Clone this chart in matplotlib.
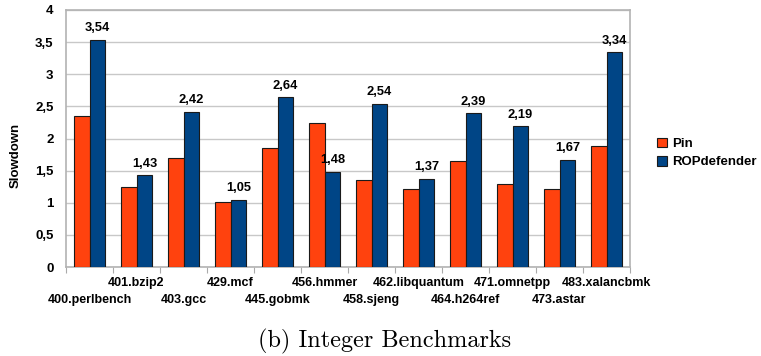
import numpy as np
import matplotlib
matplotlib.use("Agg")
import matplotlib.pyplot as plt
from matplotlib.ticker import FuncFormatter, FixedLocator

# data
benchmarks = ["400.perlbench", "401.bzip2", "403.gcc", "429.mcf", "445.gobmk",
              "456.hmmer", "458.sjeng", "462.libquantum", "464.h264ref",
              "471.omnetpp", "473.astar", "483.xalancbmk"]
pin = [2.35, 1.25, 1.69, 1.01, 1.85, 2.24, 1.35, 1.21, 1.65, 1.29, 1.21, 1.89]
ropdefender = [3.54, 1.43, 2.42, 1.05, 2.64, 1.48, 2.54, 1.37, 2.39, 2.19, 1.67, 3.34]
series_names = ["Pin", "ROPdefender"]
colors = ["#FF420E", "#004586"]

plt.rcParams["font.family"] = ["Liberation Sans", "DejaVu Sans"]

fig = plt.figure(figsize=(7.61, 3.56), dpi=100)
ax = fig.add_axes([66 / 761, 1 - 267 / 356, 564 / 761, 257 / 356])

x = np.arange(len(benchmarks))
w = 0.34
b1 = ax.bar(x - w / 2, pin, w, color=colors[0], edgecolor="#1a1a1a", linewidth=0.8,
            label=series_names[0], zorder=3)
b2 = ax.bar(x + w / 2, ropdefender, w, color=colors[1], edgecolor="#1a1a1a", linewidth=0.8,
            label=series_names[1], zorder=3)

for xi, v in zip(x + w / 2, ropdefender):
    ax.annotate(f"{v:.2f}".replace(".", ","), (xi, v), xytext=(0, 4),
                textcoords="offset points", ha="center", va="bottom",
                fontsize=9.3, fontweight="bold")

ax.set_xlim(-0.5, len(benchmarks) - 0.5)
ax.set_ylim(0, 4)
ax.set_yticks(np.arange(0, 4.01, 0.5))
ax.yaxis.set_major_formatter(FuncFormatter(lambda v, p: f"{v:g}".replace(".", ",")))
ax.grid(axis="y", color="#c8c8c8", linewidth=1, zorder=0)

# tick marks at category boundaries, labels staggered at centres
ax.xaxis.set_major_locator(FixedLocator(np.arange(-0.5, len(benchmarks), 1)))
ax.xaxis.set_major_formatter(FuncFormatter(lambda v, p: ""))
ax.tick_params(axis="x", which="major", length=4, color="#aaaaaa")
ax.tick_params(axis="y", length=0, labelsize=9.5, pad=9)
for lbl in ax.get_yticklabels():
    lbl.set_fontweight("bold")
for i, name in enumerate(benchmarks):
    off = -11.5 if i % 2 == 1 else -24
    ax.annotate(name, (i, 0), xytext=(0, off), textcoords="offset points",
                xycoords=("data", "axes fraction"), ha="center", va="center",
                fontsize=9, fontweight="bold", annotation_clip=False)

for s in ax.spines.values():
    s.set_color("#b3b3b3")
    s.set_linewidth(1.2)

fig.text(16 / 761, 1 - 155 / 356, "Slowdown", rotation=90, ha="center", va="center",
         fontsize=9.5, fontweight="bold")

fig.legend(handles=[b1, b2], labels=series_names, loc="center left",
           bbox_to_anchor=(657 / 761, 1 - 153 / 356), frameon=False,
           borderpad=0, borderaxespad=0,
           prop={"weight": "bold", "size": 9.5}, handlelength=0.75, handleheight=0.75,
           handletextpad=0.4, labelspacing=0.45)

fig.text(385 / 761, 1 - 341 / 356, "(b) Integer Benchmarks", ha="center", va="center",
         fontsize=17.5, family="cmr10")

fig.savefig("out.png", dpi=100, facecolor="white")
